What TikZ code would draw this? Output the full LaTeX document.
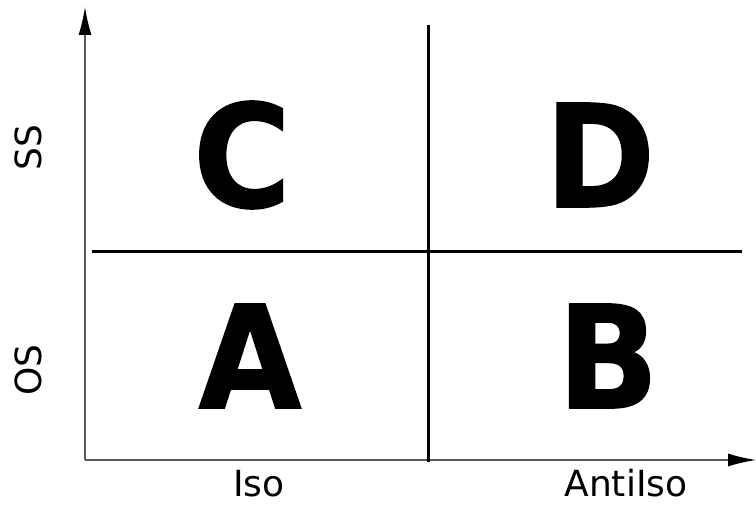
\documentclass[tikz,border=0pt]{standalone}
\usepackage{fontspec}
\setmainfont{DejaVu Sans}
\newfontfamily\quadfont[FakeStretch=0.93,FakeBold=1]{DejaVu Sans Bold}
\usetikzlibrary{arrows.meta}
\begin{document}
\begin{tikzpicture}[
            x=1pt, y=1pt,
            q/.style={font=\quadfont\fontsize{143}{143}\selectfont, inner sep=0pt},
            lab/.style={font=\fontsize{36}{36}\selectfont, inner sep=0pt},
            ax/.style={draw=black!65, line width=1.3pt, -{Latex[length=28pt,width=13pt,black]}},
            sep/.style={draw=black, line width=3pt}
        ]

        \useasboundingbox (0,0) rectangle (756,505);

        % axes
        \coordinate (o) at (85,45);
        \coordinate (ytop) at (85,498);
        \coordinate (xend) at (756,45);
        \draw[ax] (o) -- (ytop);
        \draw[ax] (o) -- (xend);

        % quadrant separators
        \coordinate (vtop) at (428,480);
        \coordinate (vbot) at (428,43);
        \coordinate (hl) at (92,253);
        \coordinate (hr) at (742,253);
        \draw[sep] (vtop) -- (vbot);
        \draw[sep] (hl) -- (hr);

        % quadrants
        \node[q] (c) at (242,350) {C};
        \node[q] (d) at (600,350) {D};
        \node[q] (a) at (250,149) {A};
        \node[q] (b) at (608,149) {B};

        % labels
        \node[lab, rotate=90] (ss) at (28,357) {SS};
        \node[lab, rotate=90] (os) at (28,135) {OS};
        \node[lab, anchor=base] (iso) at (259,8) {Iso};
        \node[lab, anchor=base] (anti) at (626,8) {AntiIso};

\end{tikzpicture}
\end{document}
